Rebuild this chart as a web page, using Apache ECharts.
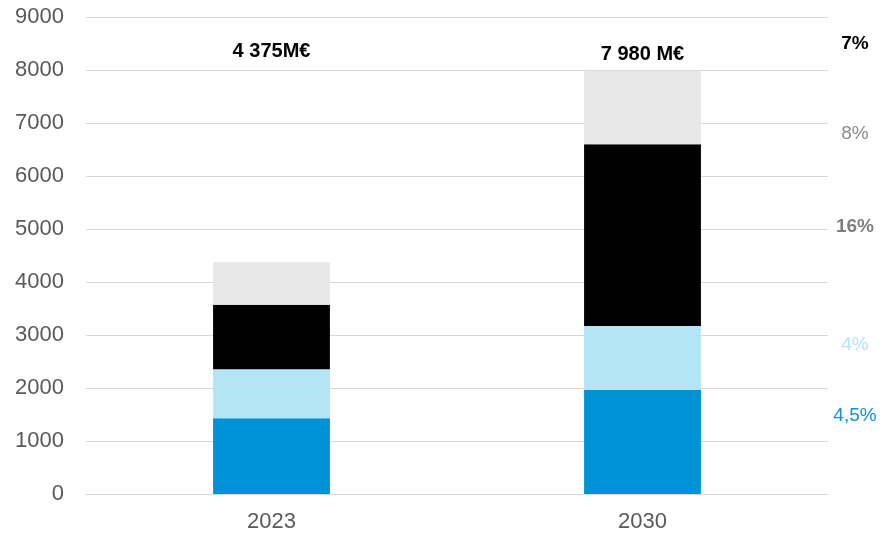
<!DOCTYPE html>
<html>
<head>
<meta charset="utf-8">
<script src="https://cdn.jsdelivr.net/npm/echarts@6/dist/echarts.min.js"></script>
<style>
  html, body { margin: 0; padding: 0; background: #fff; }
  #main { width: 884px; height: 534px; }
</style>
</head>
<body>
<div id="main"></div>
<script>
// data
const years = ["2023", "2030"];
const blueVals = [1430, 1960];
const lightBlueVals = [925, 1210];
const blackVals = [1215, 3430];
const greyVals = [805, 1380];
const totalLabels = ["4 375M€", "7 980 M€"];
const totalLabelY = [8340, 8290];
// growth labels on the right side, with the value level they sit at
const growthLabels = ["7%", "8%", "16%", "4%", "4,5%"];
const growthLevels = [8490, 6790, 5040, 2820, 1480];
const growthColors = ["#000000", "#8c8c8c", "#7f7f7f", "#b3e5f5", "#0a92d6"];
const growthBold = [true, false, true, false, false];

const chartDom = document.getElementById("main");
const myChart = echarts.init(chartDom);

function seg(name, data, color) {
  return {
    name: name,
    type: "bar",
    stack: "total",
    barWidth: "31.5%",
    data: data,
    itemStyle: { color: color },
    emphasis: { disabled: true },
  };
}

const option = {
  animation: false,
  grid: { left: 86, right: 56, top: 17, bottom: 40 },
  xAxis: {
    type: "category",
    data: years,
    axisLine: { show: true, lineStyle: { color: "#d9d9d9", width: 1 } },
    axisTick: { show: false },
    axisLabel: { color: "#595959", fontSize: 22, fontFamily: "Liberation Sans", margin: 17 },
  },
  yAxis: {
    type: "value",
    min: 0,
    max: 9000,
    interval: 1000,
    axisLine: { show: false },
    axisTick: { show: false },
    splitLine: { lineStyle: { color: "#d9d9d9", width: 1 } },
    axisLabel: {
      color: "#595959",
      fontSize: 22,
      fontFamily: "Liberation Sans",
      margin: 22,
      formatter: (v) => String(v),
    },
  },
  series: [
    seg("blue", blueVals, "#0092d6"),
    seg("lightblue", lightBlueVals, "#b3e5f5"),
    seg("black", blackVals, "#000000"),
    seg("grey", greyVals, "#e8e8e8"),
  ],
};

myChart.setOption(option);

// text labels positioned through the chart's own scales
const graphics = [];
years.forEach((y, i) => {
  const p = myChart.convertToPixel({ gridIndex: 0 }, [y, totalLabelY[i]]);
  graphics.push({
    type: "text",
    x: p[0],
    y: p[1],
    style: {
      text: totalLabels[i],
      fill: "#000",
      font: "bold 20px 'Liberation Sans'",
      align: "center",
      verticalAlign: "middle",
    },
  });
});
growthLabels.forEach((t, i) => {
  const p = myChart.convertToPixel({ gridIndex: 0 }, ["2030", growthLevels[i]]);
  graphics.push({
    type: "text",
    x: 855,
    y: p[1],
    style: {
      text: t,
      fill: growthColors[i],
      font: (growthBold[i] ? "bold " : "") + "19px 'Liberation Sans'",
      align: "center",
      verticalAlign: "middle",
    },
  });
});
myChart.setOption({ graphic: graphics });
</script>
</body>
</html>
